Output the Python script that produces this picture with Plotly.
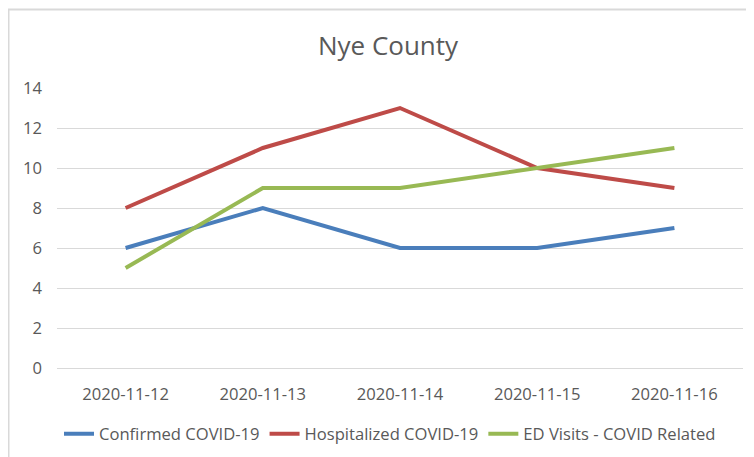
import plotly.graph_objects as go

dates = ["2020-11-12", "2020-11-13", "2020-11-14", "2020-11-15", "2020-11-16"]
confirmed = [6, 8, 6, 6, 7]
hospitalized = [8, 11, 13, 10, 9]
ed_visits = [5, 9, 9, 10, 11]
y_ticks = [0, 2, 4, 6, 8, 10, 12, 14]

FONT = "Open Sans, Liberation Sans, Arial, sans-serif"
GRAY = "#595959"
GRID = "#D9D9D9"

# page body has an 8px margin; figure coordinates are page coordinates minus 8
OFF = 8
PL, PR, PT, PB = 57 - OFF, 743 - OFF, 88 - OFF, 368 - OFF
W, H = 754, 457
PW, PH = PR - PL, PB - PT

fig = go.Figure()
series = [
    ("Confirmed COVID-19", confirmed, "#4A7EBB"),
    ("Hospitalized COVID-19", hospitalized, "#BE4B48"),
    ("ED Visits - COVID Related", ed_visits, "#98B954"),
]
for name, vals, col in series:
    fig.add_trace(go.Scatter(x=dates, y=vals, name=name, mode="lines",
                             line=dict(color=col, width=4)))

fig.update_layout(
    width=W, height=H,
    margin=dict(l=PL, r=W - PR, t=PT, b=H - PB),
    paper_bgcolor="white", plot_bgcolor="white",
    font=dict(family=FONT, color=GRAY, size=16.6),
    title=dict(text="Nye County", x=(388 - OFF - PL) / PW, xref="paper", xanchor="center",
               y=1 - (46 - OFF) / H, yref="container", yanchor="middle",
               font=dict(size=26, color=GRAY, family=FONT)),
    showlegend=True,
    legend=dict(orientation="h", x=(390 - OFF - PL) / PW, xanchor="center",
                yref="container", y=1 - (434 - OFF) / H, yanchor="middle",
                font=dict(size=16.6, color=GRAY, family=FONT),
                itemwidth=30, tracegroupgap=0),
    shapes=[dict(type="rect", xref="paper", yref="paper",
                 x0=(0.5 - PL) / PW, x1=1.2, y0=-0.6, y1=1 + (PT - 1.5) / PH,
                 line=dict(color=GRID, width=2), layer="below")],
)
fig.update_xaxes(type="category", range=[-0.5, 4.5], showgrid=False, showline=False,
                 zeroline=False, ticks="", ticklabelstandoff=14,
                 tickfont=dict(size=16.6, color=GRAY, family=FONT))
fig.update_yaxes(range=[0, 14], tickvals=y_ticks, showgrid=True, gridcolor=GRID,
                 gridwidth=1.3, zeroline=True, zerolinecolor=GRID, zerolinewidth=1.3,
                 showline=False, ticks="", ticklabelstandoff=14,
                 tickfont=dict(size=16.6, color=GRAY, family=FONT))

fig.write_html("out.html")
